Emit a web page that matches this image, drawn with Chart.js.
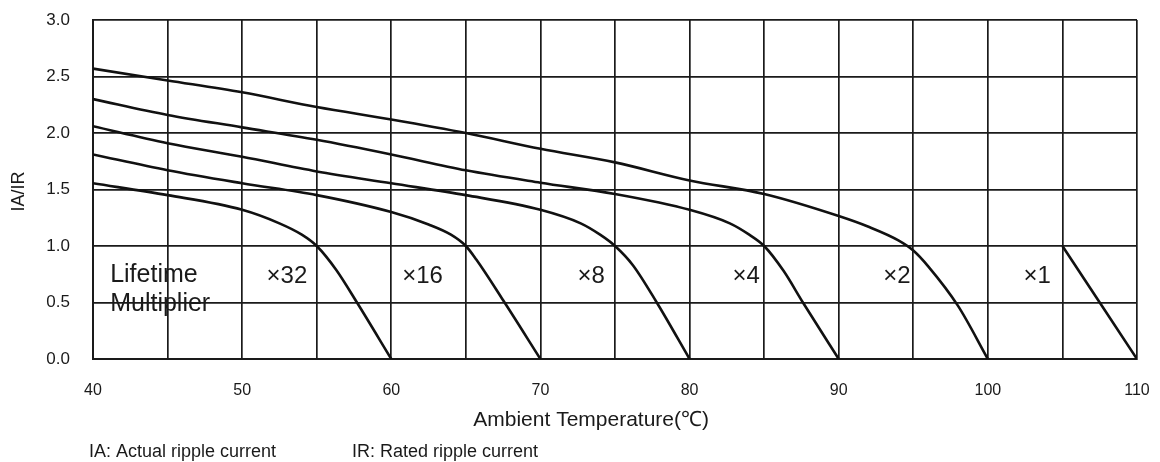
<!DOCTYPE html>
<html>
<head>
<meta charset="utf-8">
<script src="https://cdn.jsdelivr.net/npm/chart.js@4/dist/chart.umd.min.js"></script>
<style>
  html, body { margin: 0; padding: 0; background: #fff; }
  .graph { width: 1160px; height: 462px; position: relative; }
</style>
</head>
<body>
<div class="graph"><canvas id="chart"></canvas></div>
<script>
// IA/IR against ambient temperature, one curve per lifetime multiplier
const temps32 = [40, 45, 50, 52.5, 54, 55, 56.3, 57.7, 60];
const ratio32 = [1.555, 1.45, 1.32, 1.2, 1.1, 1.0, 0.79, 0.5, 0];

const temps16 = [40, 45, 50, 55, 60, 62.5, 64, 65, 65.7, 67.5, 70];
const ratio16 = [1.81, 1.67, 1.555, 1.45, 1.3, 1.19, 1.1, 1.0, 0.88, 0.52, 0];

const temps8 = [40, 45, 50, 55, 60, 65, 70, 72.7, 74, 75, 76.2, 77.8, 80];
const ratio8 = [2.06, 1.91, 1.79, 1.66, 1.555, 1.45, 1.32, 1.2, 1.1, 1.0, 0.83, 0.5, 0];

const temps4 = [40, 45, 50, 55, 60, 65, 70, 75, 80, 82.7, 84, 85, 86.3, 87.6, 90];
const ratio4 = [2.3, 2.16, 2.05, 1.94, 1.81, 1.67, 1.56, 1.46, 1.32, 1.2, 1.1, 1.0, 0.78, 0.5, 0];

const temps2 = [40, 45, 50, 55, 60, 65, 70, 75, 80, 85, 90, 92, 94, 95, 96, 98, 100];
const ratio2 = [2.57, 2.465, 2.36, 2.23, 2.12, 2.0, 1.86, 1.74, 1.58, 1.46, 1.265, 1.17, 1.05, 0.96, 0.82, 0.47, 0];

const temps1 = [105, 110];
const ratio1 = [1.0, 0];

const multiplierLabels = ['×32', '×16', '×8', '×4', '×2', '×1'];
const xTicks = [40, 50, 60, 70, 80, 90, 100, 110];
const yTicks = ['0.0', '0.5', '1.0', '1.5', '2.0', '2.5', '3.0'];

const FONT = '"Liberation Sans", Arial, sans-serif';
const INK = '#1a1a1a';

function curve(temps, ratios) {
    return {
        data: temps.map((t, i) => ({ x: t, y: ratios[i] })),
        borderColor: '#111',
        borderWidth: 2.6,
        pointRadius: 0,
        cubicInterpolationMode: 'monotone',
        fill: false,
    };
}

// texts that are not axis ticks
const chartText = {
    id: 'chartText',
    afterDraw(chart, args, opts) {
        const { ctx, chartArea } = chart;
        const x = chart.scales.x;
        const y = chart.scales.y;
        ctx.save();
        ctx.fillStyle = INK;
        ctx.textBaseline = 'middle';

        ctx.font = `24px ${FONT}`;
        ctx.textAlign = 'center';
        multiplierLabels.forEach((label, i) => {
            ctx.fillText(label, x.getPixelForValue(opts.labelTemps[i]), y.getPixelForValue(opts.labelRatio));
        });

        ctx.font = `25px ${FONT}`;
        ctx.textAlign = 'left';
        const lx = x.getPixelForValue(opts.captionTemp);
        ctx.fillText('Lifetime', lx, y.getPixelForValue(0.745));
        ctx.fillText('Multiplier', lx, y.getPixelForValue(0.49));

        ctx.font = `21px ${FONT}`;
        ctx.textAlign = 'center';
        ctx.fillText('Ambient Temperature(℃)', x.getPixelForValue(73.4), chartArea.bottom + 61);

        ctx.font = `18px ${FONT}`;
        ctx.textAlign = 'left';
        ctx.fillText('IA: Actual ripple current', 89, chartArea.bottom + 93);
        ctx.fillText('IR: Rated ripple current', 352, chartArea.bottom + 93);

        ctx.translate(19, (chartArea.top + chartArea.bottom) / 2 + 2);
        ctx.rotate(-Math.PI / 2);
        ctx.font = `18px ${FONT}`;
        ctx.textAlign = 'center';
        ctx.fillText('IA/IR', 0, 0);
        ctx.restore();
    }
};

const config = {
    type: 'line',
    data: {
        datasets: [
            curve(temps32, ratio32),
            curve(temps16, ratio16),
            curve(temps8, ratio8),
            curve(temps4, ratio4),
            curve(temps2, ratio2),
            curve(temps1, ratio1),
        ]
    },
    options: {
        responsive: true,
        maintainAspectRatio: false,
        animation: false,
        layout: { padding: { top: 20, right: 23, left: 0, bottom: 0 } },
        plugins: {
            legend: { display: false },
            tooltip: { enabled: false },
            chartText: {
                labelTemps: [53.0, 62.1, 73.4, 83.8, 93.9, 103.3],
                labelRatio: 0.73,
                captionTemp: 41.15,
            },
        },
        scales: {
            x: {
                type: 'linear',
                min: 40,
                max: 110,
                border: { color: INK, width: 2 },
                grid: { color: INK, lineWidth: 1.7, drawTicks: false },
                ticks: {
                    stepSize: 5,
                    autoSkip: false,
                    maxRotation: 0,
                    padding: 22,
                    color: INK,
                    font: { family: FONT, size: 16 },
                    callback: v => xTicks.includes(v) ? String(v) : '',
                },
                afterFit: s => {
                    s.height = 103;
                    s.paddingLeft = 0;
                    s.paddingRight = 0;
                },
            },
            y: {
                min: 0,
                max: 3,
                border: { color: INK, width: 2 },
                grid: { color: INK, lineWidth: 1.7, drawTicks: false },
                ticks: {
                    stepSize: 0.5,
                    padding: 23,
                    color: INK,
                    font: { family: FONT, size: 17 },
                    callback: v => yTicks[Math.round(v * 2)],
                },
                afterFit: s => {
                    s.width = 93;
                    s.paddingTop = 0;
                    s.paddingBottom = 0;
                },
            },
        },
    },
    plugins: [chartText],
};

new Chart(document.getElementById('chart'), config);
</script>
</body>
</html>
